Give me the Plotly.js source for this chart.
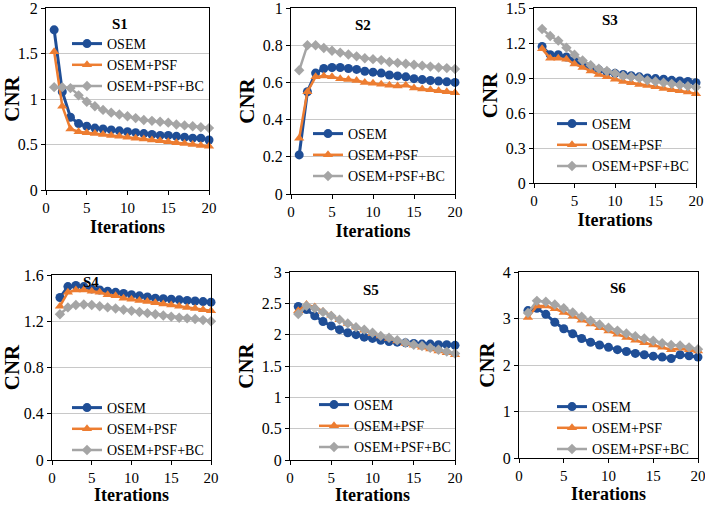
<!DOCTYPE html>
<html>
<head>
<meta charset="utf-8">
<script src="https://cdn.plot.ly/plotly-3.0.1.min.js"></script>
<style>html,body{margin:0;padding:0;background:#fff;}#chart{width:705px;height:505px;}</style>
</head>
<body>
<div id="chart"></div>
<script>
const iterations = [1,2,3,4,5,6,7,8,9,10,11,12,13,14,15,16,17,18,19,20];
const seriesNames = ['OSEM', 'OSEM+PSF', 'OSEM+PSF+BC'];
const panelTitles = ['S1', 'S2', 'S3', 'S4', 'S5', 'S6'];

const s1Osem  = [1.76,1.08,0.80,0.73,0.70,0.68,0.67,0.66,0.65,0.64,0.63,0.62,0.61,0.60,0.60,0.59,0.58,0.57,0.57,0.55];
const s1Psf   = [1.52,0.92,0.67,0.64,0.63,0.62,0.61,0.60,0.59,0.58,0.57,0.56,0.55,0.54,0.53,0.52,0.51,0.50,0.49,0.48];
const s1Bc    = [1.13,1.13,1.12,1.04,0.97,0.92,0.88,0.85,0.83,0.81,0.79,0.77,0.76,0.75,0.74,0.72,0.71,0.70,0.69,0.68];

const s2Osem  = [0.21,0.55,0.65,0.675,0.68,0.68,0.675,0.67,0.66,0.655,0.65,0.64,0.635,0.63,0.62,0.615,0.61,0.607,0.603,0.60];
const s2Psf   = [0.30,0.55,0.63,0.635,0.63,0.62,0.615,0.61,0.60,0.595,0.59,0.585,0.58,0.585,0.57,0.565,0.56,0.555,0.55,0.545];
const s2Bc    = [0.665,0.80,0.80,0.785,0.77,0.76,0.75,0.74,0.73,0.725,0.72,0.71,0.705,0.70,0.695,0.69,0.685,0.68,0.677,0.672];

const s3Osem  = [1.17,1.10,1.10,1.08,1.05,1.02,0.99,0.97,0.95,0.94,0.93,0.92,0.91,0.90,0.895,0.89,0.88,0.875,0.87,0.86];
const s3Psf   = [1.15,1.07,1.07,1.06,1.02,0.99,0.96,0.93,0.91,0.89,0.87,0.86,0.845,0.835,0.825,0.81,0.80,0.79,0.78,0.765];
const s3Bc    = [1.32,1.26,1.22,1.16,1.10,1.05,1.01,0.98,0.96,0.94,0.92,0.91,0.90,0.88,0.87,0.86,0.85,0.84,0.83,0.82];

const s4Osem  = [1.405,1.50,1.51,1.50,1.48,1.47,1.46,1.45,1.44,1.43,1.42,1.41,1.40,1.395,1.39,1.385,1.38,1.375,1.37,1.365];
const s4Psf   = [1.33,1.45,1.47,1.47,1.46,1.45,1.43,1.42,1.40,1.39,1.38,1.37,1.36,1.35,1.34,1.33,1.32,1.31,1.30,1.29];
const s4Bc    = [1.26,1.32,1.34,1.345,1.34,1.33,1.32,1.31,1.30,1.29,1.28,1.27,1.26,1.25,1.24,1.23,1.225,1.22,1.21,1.20];

const s5Osem  = [2.45,2.40,2.30,2.21,2.14,2.08,2.03,2.00,1.96,1.94,1.91,1.89,1.88,1.87,1.86,1.85,1.85,1.84,1.84,1.83];
const s5Psf   = [2.38,2.48,2.44,2.37,2.31,2.24,2.18,2.12,2.07,2.02,1.98,1.94,1.90,1.86,1.83,1.80,1.77,1.74,1.71,1.68];
const s5Bc    = [2.33,2.46,2.42,2.36,2.30,2.24,2.18,2.12,2.08,2.03,1.98,1.95,1.91,1.87,1.84,1.82,1.79,1.76,1.73,1.70];

const s6Osem  = [3.17,3.22,3.09,2.92,2.78,2.67,2.57,2.49,2.43,2.38,2.33,2.29,2.25,2.22,2.19,2.17,2.14,2.22,2.20,2.17];
const s6Psf   = [3.02,3.27,3.27,3.21,3.13,3.05,2.96,2.88,2.80,2.73,2.66,2.59,2.53,2.48,2.43,2.38,2.33,2.36,2.33,2.30];
const s6Bc    = [3.12,3.38,3.36,3.30,3.22,3.13,3.04,2.95,2.87,2.80,2.74,2.68,2.62,2.57,2.52,2.47,2.43,2.42,2.38,2.34];

const yMax  = [2, 1, 1.5, 1.6, 3, 4];
const yTicks = [
  [0, 0.5, 1, 1.5, 2],
  [0, 0.2, 0.4, 0.6, 0.8, 1],
  [0, 0.3, 0.6, 0.9, 1.2, 1.5],
  [0, 0.4, 0.8, 1.2, 1.6],
  [0, 0.5, 1, 1.5, 2, 2.5, 3],
  [0, 1, 2, 3, 4]
];
const xTicks = [0, 5, 10, 15, 20];

const panelData = [
  [s1Osem, s1Psf, s1Bc],
  [s2Osem, s2Psf, s2Bc],
  [s3Osem, s3Psf, s3Bc],
  [s4Osem, s4Psf, s4Bc],
  [s5Osem, s5Psf, s5Bc],
  [s6Osem, s6Psf, s6Bc]
];

const W = 705, H = 505;
// plot boxes in pixels: [left, right, top, bottom]
const boxes = [
  [46, 209, 8, 190],
  [291, 455, 8, 194],
  [534, 696, 8, 183],
  [52, 211, 275, 460],
  [290, 455, 272, 460],
  [519, 698, 272, 458]
];
// legend top-left in pixels
const legendPos = [
  [67, 28], [308, 118], [552, 108],
  [67, 392], [314, 389], [552, 391]
];
// panel title centers in pixels
const titlePos = [
  [120, 24], [363, 25], [610, 20],
  [91, 282], [371, 290], [618, 288]
];
// x-axis title standoff per panel
const xStandoff = [5, 5, 5, 2, 2, 2];

const serif = 'Liberation Serif';
const colors = ['#1f4e96', '#ed7d31', '#a5a5a5'];
const symbols = ['circle', 'triangle-up', 'diamond'];
const msizes = [9, 9, 8];
const lwidths = [3, 2.5, 2.5];

const traces = [];
const layout = {
  width: W, height: H,
  margin: {l: 0, r: 0, t: 0, b: 0},
  paper_bgcolor: '#ffffff',
  plot_bgcolor: '#ffffff',
  font: {family: serif, color: '#000000'},
  showlegend: true,
  annotations: []
};

panelData.forEach((series, p) => {
  const n = p + 1;
  const sfx = n === 1 ? '' : String(n);
  const xa = 'xaxis' + sfx;
  const ya = 'yaxis' + sfx;
  const leg = 'legend' + sfx;
  series.forEach((vals, s) => {
    traces.push({
      type: 'scatter', mode: 'lines+markers',
      x: iterations, y: vals,
      name: seriesNames[s],
      xaxis: 'x' + sfx,
      yaxis: 'y' + sfx,
      legend: leg,
      line: {color: colors[s], width: lwidths[s]},
      marker: {color: colors[s], symbol: symbols[s], size: msizes[s]},
      cliponaxis: false
    });
  });
  const b = boxes[p];
  layout[xa] = {
    domain: [b[0] / W, b[1] / W],
    anchor: 'y' + sfx,
    range: [0, 20], tickmode: 'array', tickvals: xTicks, ticktext: xTicks.map(String),
    showgrid: false, zeroline: false,
    showline: true, mirror: true, linecolor: '#000000', linewidth: 1,
    ticks: 'outside', ticklen: 4, tickcolor: '#000000',
    tickfont: {family: serif, size: 15, color: '#000000'},
    ticklabeloverflow: 'allow',
    automargin: false,
    title: {text: 'Iterations', font: {family: serif, size: 18, weight: 'bold', color: '#000000'}, standoff: xStandoff[p]}
  };
  layout[ya] = {
    domain: [1 - b[3] / H, 1 - b[2] / H],
    anchor: 'x' + sfx,
    range: [0, yMax[p]], tickmode: 'array', tickvals: yTicks[p], ticktext: yTicks[p].map(String),
    showgrid: true, gridcolor: '#c8c8c8', gridwidth: 1, zeroline: false,
    showline: true, mirror: true, linecolor: '#000000', linewidth: 1,
    ticks: 'outside', ticklen: 4, tickcolor: '#000000',
    tickfont: {family: serif, size: 16, color: '#000000'},
    ticklabeloverflow: 'allow',
    automargin: false,
    title: {text: 'CNR', font: {family: serif, size: 21, weight: 'bold', color: '#000000'}, standoff: 2}
  };
  layout[leg] = {
    x: legendPos[p][0] / W, y: 1 - legendPos[p][1] / H,
    xanchor: 'left', yanchor: 'top',
    bgcolor: 'rgba(0,0,0,0)', borderwidth: 0,
    font: {family: serif, size: 14, color: '#000000'},
    tracegroupgap: 0
  };
  layout.annotations.push({
    text: '<b>' + panelTitles[p] + '</b>',
    x: titlePos[p][0] / W, y: 1 - titlePos[p][1] / H,
    xref: 'paper', yref: 'paper', xanchor: 'center', yanchor: 'middle',
    showarrow: false,
    font: {family: serif, size: 15, color: '#000000'}
  });
});

Plotly.newPlot('chart', traces, layout, {displayModeBar: false, staticPlot: true});
</script>
</body>
</html>
